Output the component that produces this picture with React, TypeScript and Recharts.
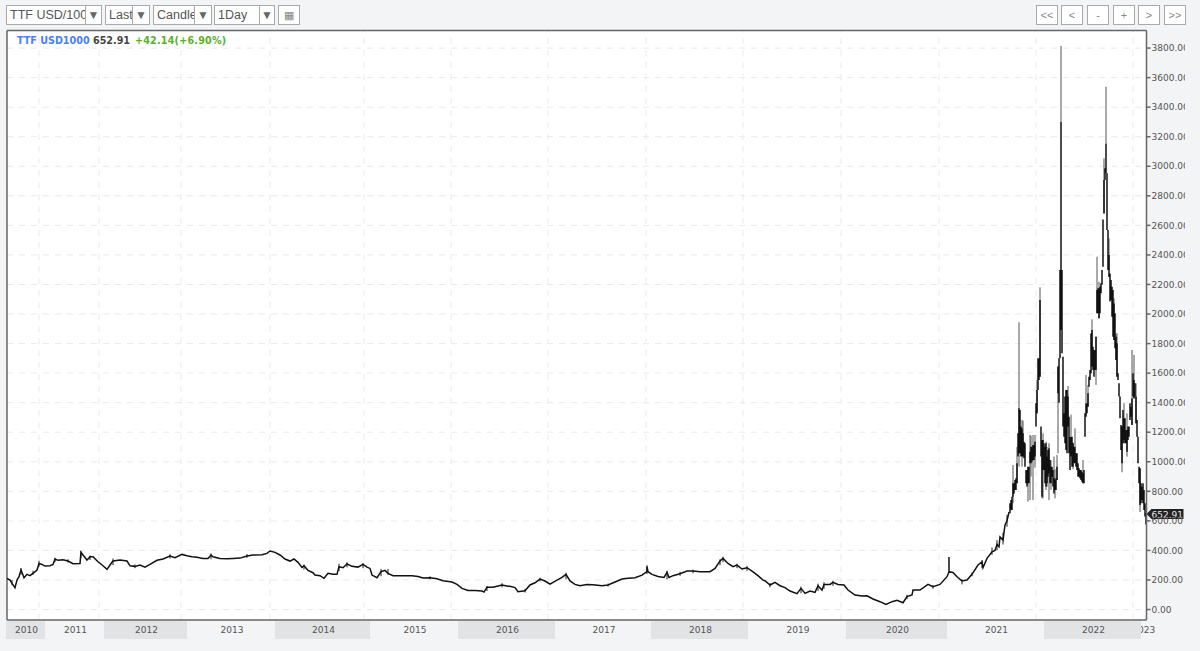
import { ComposedChart, Line, XAxis, YAxis, CartesianGrid, ReferenceArea, ReferenceLine } from "recharts";

const FONT = "'DejaVu Sans', sans-serif";

// bar slots, roughly one slot per pixel column of the original chart
const lineSlots = [
  0, 3, 5, 8, 10, 12, 14, 16, 17, 20, 23, 26, 30, 32, 35, 38, 43, 46, 48, 51, 56, 61, 66, 73, 74, 76, 80, 83, 86, 91, 96, 100,
  103, 106, 113, 120, 123, 128, 133, 138, 143, 150, 156, 163, 168, 175, 180, 185, 190, 196, 201, 204, 206, 213, 220, 226, 233, 240, 246, 255,
  260, 263, 268, 273, 278, 283, 287, 291, 295, 297, 301, 306, 308, 313, 317, 321, 326, 330, 332, 336, 340, 345, 351, 356, 360, 363,
  365, 370, 374, 378, 381, 386, 395, 405, 411, 416, 423, 430, 436, 445, 450, 455, 461, 468, 475, 477, 480, 486, 495, 501,
  503, 508, 511, 518, 523, 528, 533, 538, 543, 550, 555, 559, 563, 568, 573, 580, 586, 595, 601, 608, 615, 621, 628, 635, 640, 640, 641, 645,
  651, 657, 660, 662, 666, 673, 680, 686, 693, 703, 708, 713, 716, 721, 726, 730, 735, 740, 745, 751, 756,
  758, 763, 768, 773, 778, 783, 790, 794, 798, 803, 808, 811, 815, 817, 823, 826, 831, 837, 841, 848, 855, 860, 866, 873, 879, 885, 890, 896,
  900, 905, 906, 913, 921, 926, 933, 940, 942, 942, 942, 946, 950, 955, 960, 965, 971, 975, 976, 980, 985, 988, 990, 992, 993, 996, 998, 1000, 1002,
];
const linePrices = [
  211, 199, 177, 148, 199, 222, 267, 233, 215, 238, 229, 245, 267, 312, 305, 294, 296, 305, 342, 333, 337, 328, 310, 312, 387, 369, 335, 357, 357, 323, 296, 272,
  301, 328, 335, 328, 296, 292, 301, 287, 305, 333, 342, 362, 351, 373, 364, 357, 353, 346, 346, 369, 357, 346, 344, 346, 348, 362, 369, 371,
  380, 396, 387, 369, 342, 328, 342, 319, 285, 296, 265, 249, 233, 229, 211, 245, 238, 238, 290, 283, 308, 292, 287, 305, 287, 278,
  233, 215, 256, 265, 245, 229, 229, 229, 224, 213, 215, 208, 195, 186, 170, 143, 129, 129, 125, 118, 150, 150, 166, 157,
  157, 148, 120, 127, 166, 181, 206, 193, 172, 199, 217, 238, 193, 170, 161, 170, 168, 161, 166, 186, 206, 211, 215, 233, 256, 290, 256, 238,
  224, 217, 251, 217, 229, 242, 260, 260, 256, 256, 278, 328, 346, 312, 290, 301, 274, 283, 260, 229, 199,
  195, 166, 184, 161, 148, 125, 107, 143, 109, 125, 116, 161, 132, 170, 170, 184, 170, 166, 132, 98, 91, 93, 71, 53, 35, 53, 62, 46,
  87, 98, 132, 132, 170, 154, 170, 222, 256, 355, 256, 251, 222, 193, 199, 238, 301, 323, 283, 346, 391, 400, 440, 425, 491, 470, 572, 600, 660,
];

// small daily ranges along the quiet stretch
const jitterSlots = [
  5, 14, 26, 32, 48, 61, 74, 83, 106, 128, 163, 204, 240, 297, 332, 340, 356, 374, 381, 423, 480, 495, 518, 533, 559, 601, 640, 660, 673, 686,
  713, 716, 730, 740, 763, 794, 811, 817, 826, 900, 926, 955, 965, 975, 985, 990, 996, 1000,
];
const jitterHighs = [
  200, 280, 262, 330, 350, 340, 395, 365, 345, 305, 375, 380, 375, 305, 310, 320, 315, 275, 275, 225, 160, 178, 140, 215, 248, 175, 300, 262, 255, 270,
  340, 358, 310, 295, 178, 155, 175, 185, 195, 100, 165, 205, 250, 335, 420, 470, 520, 640,
];
const jitterLows = [
  165, 235, 235, 290, 320, 318, 350, 335, 300, 280, 345, 340, 350, 270, 260, 285, 280, 225, 235, 205, 125, 150, 115, 190, 205, 155, 240, 205, 228, 245,
  300, 320, 280, 262, 150, 110, 125, 140, 160, 70, 140, 170, 225, 280, 370, 400, 440, 560,
];

// open/close body extent per slot for the volatile stretch, starting at bodyStartSlot
const bodyStartSlot = 1003;
const bodyHighs = [
  719, 741, 764, 854, 854, 877, 888, 990, 1193, 1362, 1350, 1238, 1226, 1193, 1136, 1125, 944, 944, 967, 967, 1068, 1102, 1102, 1114, 1114, 1136,
  1396, 1486, 1700, 1700, 2095, 1238, 1147, 1147, 1125, 1102, 1125, 1035, 1080, 1091, 1012, 967, 967, 944, 888, 877, 888, 967,
  1644, 1700, 2298, 3302, 2298, 1711, 1328, 1441, 1486, 1486, 1441, 1305, 1170, 1170, 1170, 1125, 1102, 1102, 1057, 1057, 990, 956, 944, 944, 933, 922, 944,
  1328, 1396, 1396, 1463, 1576, 1621, 1869, 1892, 1779, 1757, 1757, 1847, 2163, 2174, 2174, 2185, 2208, 2298, 2640, 2907, 2986, 3155, 2952, 2568, 2400,
  2275, 2230, 2185, 2163, 2072, 2005, 1847, 1802, 1599, 1531, 1441, 1249, 1238, 1350, 1294, 1294, 1215, 1215, 1238, 1238, 1396, 1373, 1429, 1599, 1553, 1531,
  1441, 1283, 1170, 967, 956, 854, 832, 854, 809, 719, 653,
];
const bodyLows = [
  651, 674, 674, 764, 786, 809, 809, 854, 1035, 1057, 1057, 1035, 1035, 1035, 1023, 967, 854, 832, 854, 854, 990, 990, 1001, 1012, 1012, 1035,
  1238, 1328, 1486, 1553, 1576, 1035, 764, 944, 944, 854, 832, 854, 899, 922, 854, 854, 899, 832, 786, 809, 809, 877,
  1463, 1400, 1700, 1892, 1734, 1238, 1170, 1125, 1080, 1057, 1238, 1057, 944, 1035, 967, 967, 990, 990, 967, 944, 899, 899, 888, 877, 865, 854, 854,
  1170, 1305, 1328, 1373, 1508, 1553, 1599, 1644, 1621, 1576, 1621, 1621, 2005, 2005, 1971, 2005, 2140, 2200, 2320, 2681, 2907, 2952, 2568, 2298, 2250,
  2084, 2095, 1982, 1847, 1824, 1768, 1689, 1576, 1553, 1441, 1294, 1080, 990, 1125, 1147, 1125, 1125, 1068, 1147, 1170, 1283, 1305, 1249, 1441, 1429, 1441,
  1260, 1170, 990, 854, 708, 719, 741, 719, 674, 630, 575,
];

// the long shadows that stick out of the bodies
const wickSlots = [
  1006, 1010, 1012, 1015, 1016, 1021, 1023, 1024, 1026, 1028, 1030, 1033, 1035, 1036, 1039, 1040, 1042, 1044, 1047, 1048, 1050, 1051, 1054, 1061, 1064, 1066, 1068, 1076, 1079, 1081, 1085,
  1089, 1090, 1092, 1097, 1099, 1102, 1107, 1109, 1110, 1115, 1117, 1120, 1125, 1127, 1129, 1133,
];
const wickHighs = [
  978, 1100, 1944, 1283, 1278, 967, 1181, 1177, 1181, 1181, 1553, 2181, 1147, 1192, 1136, 1100, 1125, 1010, 1035, 950, 1046, 1644, 3814, 1513, 1319, 1131, 1226, 1012, 1587, 1520, 1964,
  1847, 2388, 2219, 3054, 3538, 2512, 2106, 1869, 1869, 1238, 1396, 1328, 1757, 1723, 1531, 956,
];
const wickLows = [
  719, 854, 967, 967, 1035, 730, 741, 900, 741, 960, 1328, 1576, 753, 752, 809, 830, 741, 810, 809, 752, 877, 1057, 3302, 1238, 1170, 950, 1102, 854, 1396, 1373, 1644,
  1520, 2005, 1971, 2681, 3155, 2298, 1824, 1689, 1576, 929, 1125, 1035, 1249, 1429, 1260, 660,
];

const yTicks = [0, 200, 400, 600, 800, 1000, 1200, 1400, 1600, 1800, 2000, 2200, 2400, 2600, 2800, 3000, 3200, 3400, 3600, 3800];
const yearTicks = [32, 92, 174, 263, 357, 444, 541, 639, 736, 834, 932, 1029, 1126];

const yearLabels = ["2023", "2010", "2011", "2012", "2013", "2014", "2015", "2016", "2017", "2018", "2019", "2020", "2021", "2022"];
const yearBandStarts = [1134, -1, 38, 97, 180, 268, 363, 451, 548, 644, 741, 839, 940, 1037];
const yearBandEnds = [1139.5, 38, 97, 180, 268, 363, 451, 548, 644, 741, 839, 940, 1037, 1134];
const shadedYears = ["2010", "2012", "2014", "2016", "2018", "2020", "2022"];

const lastPrice = 652.91;

const lineRows = lineSlots.map((slot, i) => ({ slot, price: linePrices[i] }));
const bodyRows = bodyHighs.flatMap((high, i) => [
  { slot: bodyStartSlot + i, price: high },
  { slot: bodyStartSlot + i, price: bodyLows[i] },
  { slot: bodyStartSlot + i, price: null },
]);
const wickRows = wickSlots.flatMap((slot, i) => [
  { slot, price: wickHighs[i] },
  { slot, price: wickLows[i] },
  { slot, price: null },
]);
const jitterRows = jitterSlots.flatMap((slot, i) => [
  { slot, price: jitterHighs[i] },
  { slot, price: jitterLows[i] },
  { slot, price: null },
]);

function Box({ left, width, text, divider }: { left: number; width: number; text?: string; divider?: number }) {
  return (
    <div
      style={{
        position: "absolute",
        left,
        top: 5,
        width,
        height: 20,
        boxSizing: "border-box",
        background: "#fff",
        border: "1px solid #a9a9a9",
        fontFamily: "'Liberation Sans', sans-serif",
        fontSize: 12.5,
        lineHeight: "18px",
        color: "#555",
        overflow: "hidden",
        whiteSpace: "nowrap",
      }}
    >
      {divider ? (
        <>
          <span style={{ position: "absolute", left: 3, width: divider - 4, overflow: "hidden" }}>{text}</span>
          <span
            style={{
              position: "absolute",
              left: divider - 1,
              top: 0,
              bottom: 0,
              right: 0,
              borderLeft: "1px solid #a9a9a9",
              textAlign: "center",
              fontSize: 12,
              color: "#666",
            }}
          >
            ▼
          </span>
        </>
      ) : (
        <span style={{ display: "block", textAlign: "center", color: "#888", fontSize: 11 }}>{text}</span>
      )}
    </div>
  );
}

function PriceTag({ viewBox }: any) {
  const right = viewBox.x + viewBox.width;
  const y = viewBox.y + 1;
  return (
    <g>
      <polygon
        points={`${right},${y} ${right + 5},${y - 5} ${right + 37},${y - 5} ${right + 37},${y + 5} ${right + 5},${y + 5}`}
        fill="#222"
      />
      <text x={right + 5} y={y + 3.5} fontSize={9} fontFamily={FONT} fill="#e8e8e8">
        652.91
      </text>
    </g>
  );
}

// the 2023 label is only partly shown, the 2022 band covers its start
function ClippedYear({ viewBox, value }: any) {
  const cx = viewBox.x + viewBox.width / 2;
  const cy = viewBox.y + viewBox.height / 2;
  return (
    <g>
      <clipPath id="lastYearClip">
        <rect x={viewBox.x} y={viewBox.y} width={30} height={viewBox.height} />
      </clipPath>
      <text x={cx} y={cy + 3} textAnchor="middle" fontSize={9} fontFamily={FONT} fill="#555" clipPath="url(#lastYearClip)">
        {value}
      </text>
    </g>
  );
}

export default function App() {
  return (
    <div style={{ position: "absolute", left: 0, top: 0, width: 1200, height: 651, background: "#f3f4f6", overflow: "hidden" }}>
      <Box left={6} width={96} text="TTF USD/1000" divider={79} />
      <Box left={105} width={45} text="Last" divider={27} />
      <Box left={153} width={59} text="Candle" divider={41} />
      <Box left={214} width={61} text="1Day" divider={45} />
      <Box left={278} width={22} text="▦" />
      <Box left={1036} width={22} text="<<" />
      <Box left={1061} width={22} text="<" />
      <Box left={1087} width={22} text="-" />
      <Box left={1113} width={22} text="+" />
      <Box left={1138} width={22} text=">" />
      <Box left={1164} width={22} text=">>" />

      <div style={{ position: "absolute", left: 0, top: 0 }}>
        <ComposedChart width={1185} height={651} data={lineRows} margin={{ top: 30.5, right: 0, bottom: 0, left: 7 }}>
          <CartesianGrid fill="#fff" stroke="#ebebeb" strokeDasharray="6 6" />
          <XAxis
            dataKey="slot"
            type="number"
            domain={[0, 1139.5]}
            ticks={yearTicks}
            tick={false}
            tickSize={3}
            height={31}
            allowDataOverflow
            stroke="#666"
            strokeWidth={1.5}
          />
          <YAxis
            orientation="right"
            type="number"
            domain={[-71, 3919]}
            ticks={yTicks}
            width={38.5}
            tickSize={4}
            tickMargin={1}
            interval={0}
            allowDataOverflow
            stroke="#666"
            strokeWidth={1.5}
            tickFormatter={(v: number) => v.toFixed(2)}
            tick={{ fontSize: 9, fontFamily: FONT, fill: "#555", textAnchor: "start" }}
          />
          {yearTicks.map((slot) => (
            <ReferenceLine key={slot} x={slot} stroke="#ebebeb" strokeDasharray="6 6" />
          ))}
          <ReferenceLine x={0} stroke="#666" strokeWidth={1.5} />
          <ReferenceLine y={3919} stroke="#666" strokeWidth={1.5} />
          {yearLabels.map((year, i) => (
            <ReferenceArea
              key={year}
              x1={yearBandStarts[i]}
              x2={yearBandEnds[i]}
              y1={-200}
              y2={-78}
              ifOverflow="visible"
              fill={shadedYears.includes(year) ? "#e2e3e5" : "#f3f4f6"}
              fillOpacity={1}
              stroke="none"
              label={
                year === "2023" ? (
                  <ClippedYear value={year} />
                ) : (
                  { value: year, position: "center", fontSize: 9, fontFamily: FONT, fill: "#555", dx: 1 }
                )
              }
            />
          ))}
          <ReferenceLine y={lastPrice} stroke="none" label={<PriceTag />} ifOverflow="visible" />
          <Line dataKey="price" data={wickRows} stroke="#555" strokeWidth={1} dot={false} isAnimationActive={false} connectNulls={false} legendType="none" />
          <Line dataKey="price" data={bodyRows} stroke="#111" strokeWidth={1.5} dot={false} isAnimationActive={false} connectNulls={false} legendType="none" />
          <Line dataKey="price" data={jitterRows} stroke="#222" strokeWidth={1} dot={false} isAnimationActive={false} connectNulls={false} legendType="none" />
          <Line dataKey="price" stroke="#111" strokeWidth={1.5} dot={false} isAnimationActive={false} legendType="none" />
        </ComposedChart>
      </div>

      <div style={{ position: "absolute", left: 0, top: 35, fontFamily: FONT, fontWeight: "bold", fontSize: 9.6, lineHeight: "12px", whiteSpace: "pre" }}>
        <span style={{ position: "absolute", left: 17, color: "#4a7dff" }}>TTF USD1000</span>
        <span style={{ position: "absolute", left: 93, color: "#444" }}>652.91</span>
        <span style={{ position: "absolute", left: 135, color: "#5aaf2a", letterSpacing: 0.2 }}>+42.14(+6.90%)</span>
      </div>
    </div>
  );
}
